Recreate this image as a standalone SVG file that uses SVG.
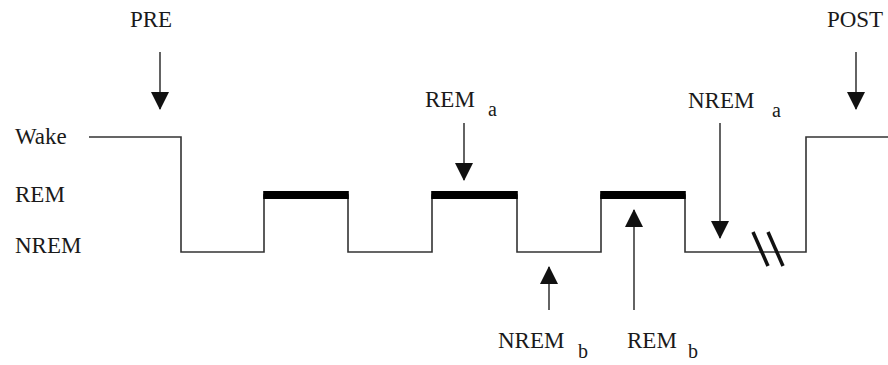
<svg xmlns="http://www.w3.org/2000/svg" width="888" height="365" viewBox="0 0 888 365">
  <defs>
    <marker id="head" markerUnits="userSpaceOnUse" markerWidth="18" markerHeight="18" viewBox="0 0 18 18" refX="17" refY="9" orient="auto">
      <path d="M0,0 L18,9 L0,18 Z" fill="#111"/>
    </marker>
    <style>
      .lbl { font-family: "Liberation Serif", "Times New Roman", serif; font-size: 23px; fill: #1a1a1a; }
      .sub { font-family: "Liberation Serif", "Times New Roman", serif; font-size: 20px; fill: #1a1a1a; }
      .trace { fill: none; stroke: #333; stroke-width: 1.6; }
      .bar { fill: #000; }
      .arrow { stroke: #222; stroke-width: 1.4; marker-end: url(#head); }
      .brk { stroke: #111; stroke-width: 3.5; stroke-linecap: butt; }
    </style>
  </defs>
  <rect width="888" height="365" fill="#fff"/>

  <!-- stage axis labels -->
  <g id="axis-labels">
    <text class="lbl" x="15" y="144">Wake</text>
    <text class="lbl" x="15" y="202">REM</text>
    <text class="lbl" x="15" y="253">NREM</text>
  </g>

  <!-- sleep stage trace -->
  <g id="trace">
    <path class="trace" d="M89,137 H181 V252 H264 V195 H348 V252 H432 V195 H517 V252 H601 V195 H685 V252 H806 V137 H888"/>
    <rect class="bar" x="263.2" y="191" width="85.6" height="8"/>
    <rect class="bar" x="431.2" y="191" width="86.6" height="8"/>
    <rect class="bar" x="600.2" y="191" width="85.6" height="8"/>
    <!-- time break -->
    <line class="brk" x1="753" y1="232" x2="768" y2="266"/>
    <line class="brk" x1="768" y1="232" x2="783" y2="266"/>
  </g>

  <!-- marker arrows -->
  <g id="connectors">
    <line class="arrow" x1="160" y1="52" x2="160" y2="109"/>
    <line class="arrow" x1="464" y1="123" x2="464" y2="180"/>
    <line class="arrow" x1="720" y1="123" x2="720" y2="238"/>
    <line class="arrow" x1="856" y1="52" x2="856" y2="109"/>
    <line class="arrow" x1="549" y1="310" x2="549" y2="267"/>
    <line class="arrow" x1="634" y1="310" x2="634" y2="210"/>
  </g>

  <!-- time point labels -->
  <g id="pre"><text class="lbl" x="151" y="27" text-anchor="middle">PRE</text></g>
  <g id="post"><text class="lbl" x="855" y="27" text-anchor="middle">POST</text></g>
  <g id="rem-a">
    <text class="lbl" x="425" y="107">REM</text>
    <text class="sub" x="488" y="116">a</text>
  </g>
  <g id="nrem-a">
    <text class="lbl" x="688" y="108">NREM</text>
    <text class="sub" x="772" y="117">a</text>
  </g>
  <g id="nrem-b">
    <text class="lbl" x="498" y="348">NREM</text>
    <text class="sub" x="578" y="358">b</text>
  </g>
  <g id="rem-b">
    <text class="lbl" x="627" y="348">REM</text>
    <text class="sub" x="688" y="358">b</text>
  </g>
</svg>
